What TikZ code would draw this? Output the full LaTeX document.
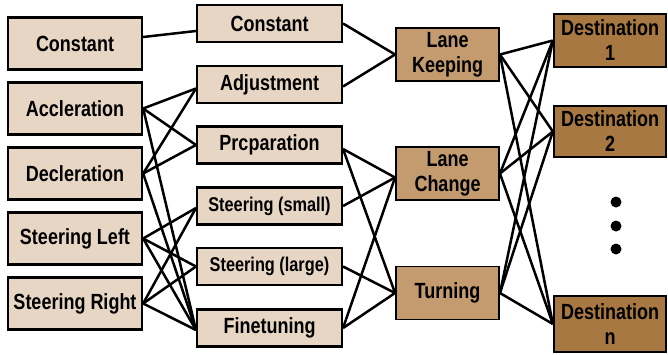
\documentclass[tikz,border=0pt]{standalone}
\usepackage{fontspec}
\usepackage{graphicx}
\setmainfont{Liberation Sans}
\definecolor{lightbox}{RGB}{232,214,197}
\definecolor{midbox}{RGB}{195,155,111}
\definecolor{darkbox}{RGB}{168,120,66}
\newcommand{\vs}[1]{\scalebox{1}[1.22]{#1}}
\begin{document}
\begin{tikzpicture}[x=1pt,y=-1pt,
  every node/.style={font=\fontsize{18}{25}\selectfont\bfseries, align=center, inner sep=0pt},
  leftbox/.style={draw=black, line width=2.3pt, fill=lightbox, minimum width=134pt, minimum height=52pt},
  midlbox/.style={draw=black, line width=2.1pt, fill=lightbox, minimum width=145pt, minimum height=37pt},
  midbox2/.style={draw=black, line width=1.9pt, fill=midbox, minimum width=103pt, minimum height=53pt},
  destbox/.style={draw=black, line width=2.3pt, fill=darkbox, minimum width=112pt},
  conn/.style={draw=black, line width=2.5pt},
  smallfont/.style={font=\fontsize{16.3}{20}\selectfont\bfseries}]
\useasboundingbox (0,0) rectangle (668,354);
% column 1
\node[leftbox] (a1) at (75,43.5) {\vs{Constant}};
\node[leftbox] (a2) at (75,108.5) {\vs{Accleration}};
\node[leftbox] (a3) at (75,173.5) {\vs{Decleration}};
\node[leftbox] (a4) at (75,238.5) {\vs{Steering Left}};
\node[leftbox] (a5) at (75,303.5) {\vs{Steering Right}};
% column 2
\node[midlbox] (b1) at (269.5,23.5) {\vs{Constant}};
\node[midlbox] (b2) at (269.5,84.5) {\vs{Adjustment}};
\node[midlbox] (b3) at (269.5,145) {\vs{Prcparation}};
\node[midlbox,smallfont] (b4) at (269.5,206) {\vs{Steering (small)}};
\node[midlbox,smallfont] (b5) at (269.5,266.5) {\vs{Steering (large)}};
\node[midlbox] (b6) at (269.5,328) {\vs{Finetuning}};
% column 3
\node[midbox2] (c1) at (447.5,54.5) {\vs{Lane}\\\vs{Keeping}};
\node[midbox2] (c2) at (447.5,173.5) {\vs{Lane}\\\vs{Change}};
\node[midbox2] (c3) at (447.5,293) {\vs{Turning}};
% column 4
\node[destbox, minimum height=53pt] (d1) at (610,40.5) {\vs{Destination}\\\vs{1}};
\node[destbox, minimum height=51pt] (d2) at (610,131.5) {\vs{Destination}\\\vs{2}};
\node[destbox, minimum height=56pt] (d3) at (610,324) {\vs{Destination}\\\vs{n}};
% dots
\fill (616,202) circle (5.5pt);
\fill (616,226) circle (5.5pt);
\fill (616,249) circle (5.5pt);
% connectors col1 -> col2
\draw[conn] ([yshift=6.5pt]a1.east) -- ([yshift=-7.5pt]b1.west);
\draw[conn] (a2.east) -- ([yshift=-4pt]b2.west);
\draw[conn] (a2.east) -- (b3.west);
\draw[conn] (a2.east) -- ([yshift=-2pt]b6.west);
\draw[conn] (a3.east) -- ([yshift=-4pt]b2.west);
\draw[conn] (a3.east) -- (b3.west);
\draw[conn] (a3.east) -- ([yshift=-2pt]b6.west);
\draw[conn] (a4.east) -- ([yshift=-2pt]b4.west);
\draw[conn] (a4.east) -- (b5.west);
\draw[conn] (a4.east) -- ([yshift=-2pt]b6.west);
\draw[conn] (a5.east) -- ([yshift=-2pt]b4.west);
\draw[conn] (a5.east) -- (b5.west);
\draw[conn] (a5.east) -- ([yshift=-2pt]b6.west);
% col2 -> col3
\draw[conn] (b1.east) -- (c1.west);
\draw[conn] ([yshift=-2pt]b2.east) -- (c1.west);
\draw[conn] ([yshift=-4pt]b3.east) -- ([yshift=-4pt]c2.west);
\draw[conn] ([yshift=-4pt]b3.east) -- (c3.west);
\draw[conn] (b4.east) -- ([yshift=-4pt]c2.west);
\draw[conn] (b5.east) -- (c3.west);
\draw[conn] (b6.east) -- ([yshift=-4pt]c2.west);
\draw[conn] (b6.east) -- (c3.west);
% col3 -> col4
\foreach \s in {c1,c2,c3}{
  \foreach \t in {d1,d2,d3}{
    \draw[conn] (\s.east) -- (\t.west);
  }
}
\end{tikzpicture}
\end{document}
